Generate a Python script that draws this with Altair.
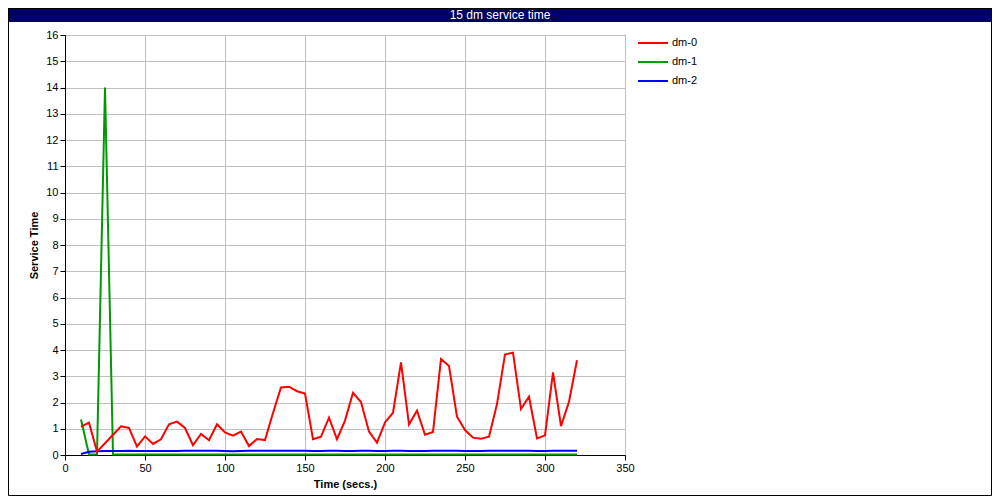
import altair as alt
import pandas as pd

FONT = "Liberation Sans"

chart_title = "15 dm service time"
x_title = "Time (secs.)"
y_title = "Service Time"
series = ["dm-0", "dm-1", "dm-2"]
colors = ["#ff0000", "#009900", "#0000ff"]
x_ticks = [0, 50, 100, 150, 200, 250, 300, 350]
y_ticks = [0, 1, 2, 3, 4, 5, 6, 7, 8, 9, 10, 11, 12, 13, 14, 15, 16]

times = [10, 15, 20, 25, 30, 35, 40, 45, 50, 55, 60, 65, 70, 75, 80, 85, 90, 95,
         100, 105, 110, 115, 120, 125, 130, 135, 140, 145, 150, 155, 160, 165,
         170, 175, 180, 185, 190, 195, 200, 205, 210, 215, 220, 225, 230, 235,
         240, 245, 250, 255, 260, 265, 270, 275, 280, 285, 290, 295, 300, 305,
         310, 315, 320]

dm0 = [1.08, 1.23, 0.13, 0.45, 0.77, 1.09, 1.03, 0.32, 0.71, 0.42, 0.60, 1.17,
       1.27, 1.03, 0.37, 0.80, 0.56, 1.17, 0.86, 0.74, 0.89, 0.34, 0.61, 0.57,
       1.60, 2.57, 2.60, 2.43, 2.34, 0.60, 0.70, 1.42, 0.60, 1.31, 2.37, 2.02,
       0.89, 0.47, 1.24, 1.61, 3.53, 1.16, 1.69, 0.77, 0.88, 3.66, 3.39, 1.46,
       0.95, 0.66, 0.62, 0.70, 1.94, 3.83, 3.90, 1.75, 2.22, 0.63, 0.75, 3.15,
       1.10, 2.03, 3.61]

dm1 = [1.35, 0.02, 0.02, 14.0, 0.02, 0.02, 0.02, 0.02, 0.02, 0.02, 0.02, 0.02,
       0.02, 0.02, 0.02, 0.02, 0.02, 0.02, 0.02, 0.02, 0.02, 0.02, 0.02, 0.02,
       0.02, 0.02, 0.02, 0.02, 0.02, 0.02, 0.02, 0.02, 0.02, 0.02, 0.02, 0.02,
       0.02, 0.02, 0.02, 0.02, 0.02, 0.02, 0.02, 0.02, 0.02, 0.02, 0.02, 0.02,
       0.02, 0.02, 0.02, 0.02, 0.02, 0.02, 0.02, 0.02, 0.02, 0.02, 0.02, 0.02,
       0.02, 0.02, 0.02]

dm2 = [0.04, 0.12, 0.14, 0.15, 0.15, 0.15, 0.16, 0.15, 0.15, 0.15, 0.15, 0.15,
       0.15, 0.16, 0.16, 0.16, 0.16, 0.16, 0.15, 0.14, 0.15, 0.16, 0.16, 0.16,
       0.16, 0.16, 0.16, 0.16, 0.16, 0.15, 0.15, 0.16, 0.16, 0.15, 0.15, 0.16,
       0.16, 0.15, 0.15, 0.16, 0.16, 0.15, 0.15, 0.15, 0.16, 0.16, 0.16, 0.16,
       0.15, 0.15, 0.15, 0.16, 0.16, 0.16, 0.16, 0.16, 0.16, 0.15, 0.15, 0.16,
       0.16, 0.16, 0.16]

rows = []
for name, vals in zip(series, [dm0, dm1, dm2]):
    for t, v in zip(times, vals):
        rows.append({"time": t, "value": v, "series": name})
df = pd.DataFrame(rows)

color_scale = alt.Scale(domain=series, range=colors)

x_enc = alt.X("time:Q", scale=alt.Scale(domain=[0, 350], nice=False),
              axis=alt.Axis(values=x_ticks, title=x_title, titlePadding=5,
                            labelPadding=2, labelFlush=False))
y_enc = alt.Y("value:Q", scale=alt.Scale(domain=[0, 16], nice=False),
              axis=alt.Axis(values=y_ticks, title=y_title, titlePadding=6,
                            labelPadding=2, labelFlush=False))


def line_layer(name):
    return alt.Chart(df).transform_filter(
        alt.datum.series == name
    ).mark_line(strokeWidth=2).encode(
        x=x_enc, y=y_enc,
        color=alt.Color("series:N", scale=color_scale, legend=None),
    )


title_df = pd.DataFrame({"t": [chart_title]})
title_bar = alt.Chart(title_df).mark_rect(color="#000066").encode(
    x=alt.value(-57), x2=alt.value(927), y=alt.value(-27), y2=alt.value(-13)
)
title_text = alt.Chart(title_df).mark_text(
    align="center", baseline="middle", fontSize=12, font=FONT, color="white"
).encode(x=alt.value(435), y=alt.value(-20), text="t:N")
border = alt.Chart(title_df).mark_rect(
    fill=None, fillOpacity=0, stroke="black", strokeWidth=1
).encode(x=alt.value(-56.5), x2=alt.value(926.5), y=alt.value(-26.5),
         y2=alt.value(460.5))

plot = alt.layer(
    title_bar, title_text, border,
    line_layer("dm-1"), line_layer("dm-2"), line_layer("dm-0"),
)

leg_df = pd.DataFrame({"series": series})
leg_y = alt.Y("series:N", scale=alt.Scale(type="point", domain=series,
                                            range=[8, 46], padding=0), axis=None)
leg_rule = alt.Chart(leg_df).mark_rule(strokeWidth=2).encode(
    x=alt.value(573), x2=alt.value(603), y=leg_y,
    color=alt.Color("series:N", scale=color_scale, legend=None),
)
leg_text = alt.Chart(leg_df).mark_text(
    align="left", baseline="middle", fontSize=11, font=FONT, color="black"
).encode(x=alt.value(607), y=leg_y, text="series:N")
legend = alt.layer(leg_rule, leg_text)

chart = alt.layer(plot, legend).resolve_scale(y="independent").properties(
    width=560, height=420,
    autosize=alt.AutoSizeParams(type="none"),
    padding={"left": 57, "top": 27, "right": 367, "bottom": 41},
    background="white",
).configure_view(
    stroke="black", strokeWidth=1
).configure_axis(
    grid=True, gridColor="#c0c0c0", gridWidth=1,
    domainColor="black", domainWidth=1,
    tickColor="black", tickSize=5, tickWidth=1,
    labelFont=FONT, labelFontSize=11, labelColor="black",
    titleFont=FONT, titleFontSize=11, titleFontWeight="bold", titleColor="black",
)

chart.save("out.html", embed_options={"renderer": "svg", "actions": False})
